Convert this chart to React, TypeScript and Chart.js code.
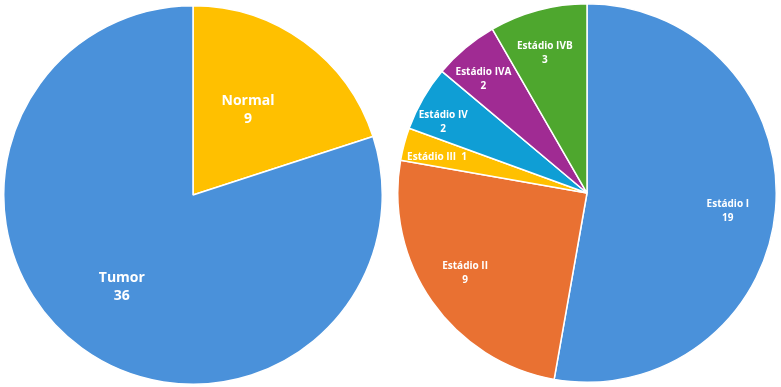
import React, { useEffect, useRef } from "react";
import { Chart, registerables } from "chart.js";

Chart.register(...registerables);

// Left pie: sample type
const sampleLabels = ["Normal", "Tumor"];
const sampleValues = [9, 36];
const sampleColors = ["#FFC000", "#4A91DA"];

// Right pie: tumour stage
const stageLabels = ["Estádio I", "Estádio II", "Estádio III", "Estádio IV", "Estádio IVA", "Estádio IVB"];
const stageValues = [19, 9, 1, 2, 2, 3];
const stageColors = ["#4A91DA", "#E97132", "#FFC000", "#0F9ED5", "#A02B93", "#4EA72E"];

const FONT = '"Open Sans", "Noto Sans", sans-serif';

const sliceLabelPlugin = {
  id: "sliceLabels",
  afterDatasetsDraw(chart: any, _args: any, opts: any) {
    const ctx = chart.ctx;
    const meta = chart.getDatasetMeta(0);
    const ds = chart.data.datasets[0];
    ctx.save();
    ctx.fillStyle = "#ffffff";
    ctx.font = `bold ${opts.size}px ${FONT}`;
    ctx.textAlign = "center";
    ctx.textBaseline = "middle";
    meta.data.forEach((arc: any, i: number) => {
      const p = arc.getProps(["x", "y", "startAngle", "endAngle", "outerRadius"], true);
      const mid = (p.startAngle + p.endAngle) / 2 + ((opts.angleOffset?.[i] || 0) * Math.PI) / 180;
      const r = p.outerRadius * opts.radial[i];
      const cx = p.x + Math.cos(mid) * r;
      const cy = p.y + Math.sin(mid) * r;
      const label = chart.data.labels[i];
      const v = ds.data[i];
      if (opts.inline && opts.inline[i]) {
        ctx.fillText(`${label}  ${v}`, cx, cy);
      } else {
        ctx.fillText(label, cx, cy - opts.lineH / 2);
        ctx.fillText(String(v), cx, cy + opts.lineH / 2);
      }
    });
    ctx.restore();
  },
};

function PieChart(props: {
  labels: string[];
  values: number[];
  colors: string[];
  size: number;
  left: number;
  top: number;
  labelOpts: any;
}) {
  const ref = useRef<HTMLCanvasElement | null>(null);
  useEffect(() => {
    if (!ref.current) return;
    const chart = new Chart(ref.current, {
      type: "pie",
      data: {
        labels: props.labels,
        datasets: [
          {
            data: props.values,
            backgroundColor: props.colors,
            borderColor: "#ffffff",
            borderWidth: 1.5,
          },
        ],
      },
      options: {
        responsive: false,
        animation: false,
        layout: { padding: 0 },
        plugins: {
          legend: { display: false },
          tooltip: { enabled: false },
          title: { display: false },
          sliceLabels: props.labelOpts,
        } as any,
      },
      plugins: [sliceLabelPlugin as any],
    });
    return () => chart.destroy();
  }, []);
  return (
    <canvas
      ref={ref}
      width={props.size}
      height={props.size}
      style={{ position: "absolute", left: props.left, top: props.top, width: props.size, height: props.size }}
    />
  );
}

export default function App() {
  return (
    <div
      style={{
        position: "fixed",
        left: 0,
        top: 0,
        width: 781,
        height: 387,
        background: "#ffffff",
        overflow: "hidden",
      }}
    >
      <PieChart
        labels={sampleLabels}
        values={sampleValues}
        colors={sampleColors}
        size={380}
        left={3}
        top={5}
        labelOpts={{ size: 14, lineH: 18, radial: [0.535, 0.615], angleOffset: [-3.1, 1.7] }}
      />
      <PieChart
        labels={stageLabels}
        values={stageValues}
        colors={stageColors}
        size={380}
        left={397}
        top={3}
        labelOpts={{
          size: 10,
          lineH: 14,
          radial: [0.75, 0.77, 0.815, 0.846, 0.813, 0.772],
          angleOffset: [2.3, 1.8, -1.4, -3.9, -2.3, -1.8],
          inline: [false, false, true, false, false, false],
        }}
      />
    </div>
  );
}
